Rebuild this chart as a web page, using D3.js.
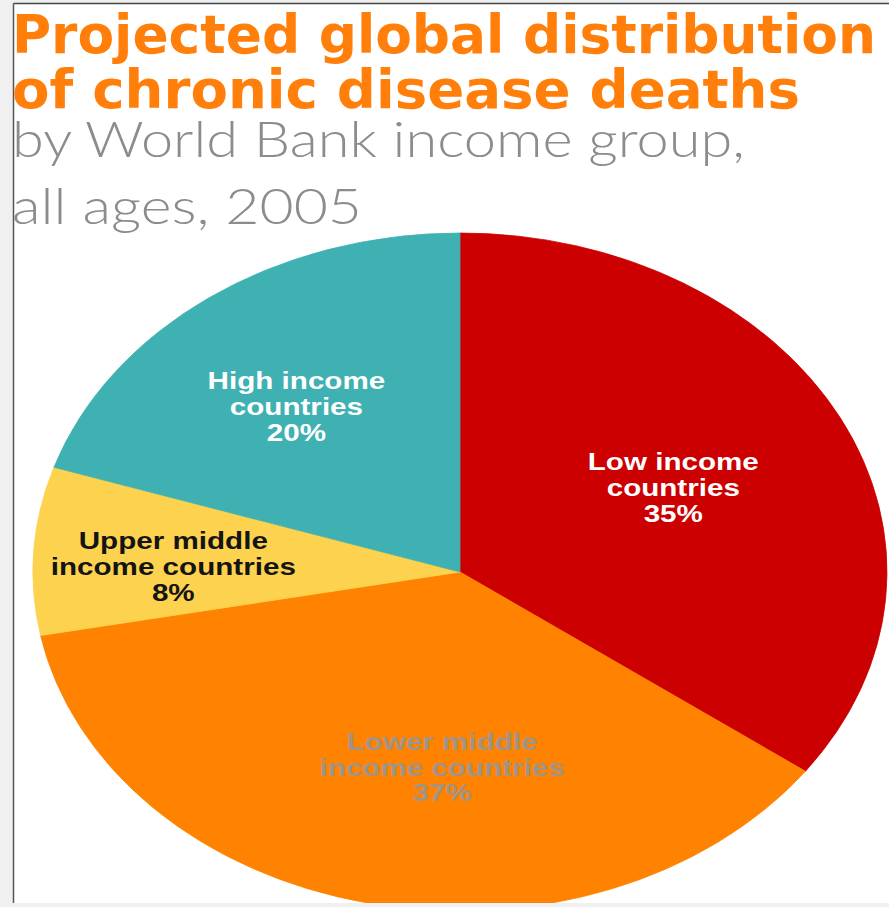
<!DOCTYPE html>
<html>
<head>
<meta charset="utf-8">
<script src="https://cdn.jsdelivr.net/npm/d3@7"></script>
<style>
  html, body { margin: 0; padding: 0; background: #f0f0f0; overflow: hidden; }
  svg { display: block; }
</style>
</head>
<body>
<svg id="chart" width="889" height="907"></svg>
<script>
// ---- data ----
const titleLines = ["Projected global distribution", "of chronic disease deaths"];
const subtitleLines = ["by World Bank income group,", "all ages, 2005"];
const categories = ["Low income countries", "Lower middle income countries", "Upper middle income countries", "High income countries"];
const labelLines = [["Low income", "countries"], ["Lower middle", "income countries"], ["Upper middle", "income countries"], ["High income", "countries"]];
const values = [35, 37, 8, 20];

// ---- styles / layout ----
const sliceColors = ["#cc0000", "#ff8300", "#fcd24e", "#3fb1b2"];
const labelColors = ["#ffffff", "#a09488", "#141414", "#ffffff"];
const labelNudge = [[-15, 8], [38, -3], [-31, 8], [-13, 0]];

const W = 889, H = 907;
const cx = 460, cy = 572, rx = 427, ry = 339, R = 100;
const stretch = 1.26;

const svg = d3.select("#chart");

// frame
svg.append("rect").attr("x", 14).attr("y", 4).attr("width", W - 14).attr("height", 899).attr("fill", "#ffffff");
svg.append("line").attr("x1", 13.5).attr("y1", 3.5).attr("x2", 13.5).attr("y2", 903).attr("stroke", "#555").attr("stroke-width", 1.5);
svg.append("line").attr("x1", 13.5).attr("y1", 3.5).attr("x2", W).attr("y2", 3.5).attr("stroke", "#444").attr("stroke-width", 1.5);

const defs = svg.append("defs");
defs.append("clipPath").attr("id", "plotclip").append("rect")
  .attr("x", 14).attr("y", 4).attr("width", W - 14).attr("height", 899);

// pie
const pie = d3.pie().sort(null).value(d => d);
const arcs = pie(values);
const arc = d3.arc().innerRadius(0).outerRadius(R);
const labelArc = d3.arc().innerRadius(R * 0.6).outerRadius(R * 0.6);

const pieG = svg.append("g").attr("clip-path", "url(#plotclip)")
  .append("g")
  .attr("transform", `translate(${cx},${cy}) scale(${rx / R},${ry / R})`);

pieG.selectAll("path.slice")
  .data(arcs)
  .join("path")
  .attr("class", "slice")
  .attr("d", arc)
  .attr("fill", (d, i) => sliceColors[i])
  .attr("stroke", (d, i) => sliceColors[i])
  .attr("stroke-width", 0.2);

// labels
const lineH = 26;
const labelG = svg.append("g");
arcs.forEach((d, i) => {
  const c = labelArc.centroid(d);
  const x = cx + c[0] * rx / R + labelNudge[i][0];
  const y = cy + c[1] * ry / R + labelNudge[i][1];
  const lines = labelLines[i].concat([values[i] + "%"]);
  const g = labelG.append("g")
    .attr("transform", `translate(${x},${y + 8}) scale(${stretch},1)`);
  lines.forEach((t, k) => {
    g.append("text")
      .attr("x", 0)
      .attr("y", (k - 1) * lineH)
      .attr("text-anchor", "middle")
      .attr("font-family", "'Liberation Sans', Arial, Helvetica, sans-serif")
      .attr("font-weight", "bold")
      .attr("font-size", 23.5)
      .attr("fill", labelColors[i])
      .text(t);
  });
});

// title
const titleBase = [53, 108];
const titleEnd = [876, 800];
titleLines.forEach((t, i) => {
  svg.append("text")
    .attr("x", 12)
    .attr("y", titleBase[i])
    .attr("font-family", "'DejaVu Sans Condensed', 'DejaVu Sans', sans-serif")
    .attr("font-stretch", "condensed")
    .attr("font-weight", "bold")
    .attr("font-size", 54)
    .attr("fill", "#ff7f0a")
    .attr("textLength", titleEnd[i] - 12)
    .attr("lengthAdjust", "spacingAndGlyphs")
    .text(t);
});

// subtitle
const subBase = [157, 224];
const subEnd = [745, 362];
subtitleLines.forEach((t, i) => {
  svg.append("text")
    .attr("x", 12)
    .attr("y", subBase[i])
    .attr("font-family", "Lato, Roboto, 'Open Sans', sans-serif")
    .attr("font-weight", 300)
    .attr("font-size", 49)
    .attr("fill", "#8c8c8c")
    .attr("textLength", subEnd[i] - 12)
    .attr("lengthAdjust", "spacingAndGlyphs")
    .text(t);
});
</script>
</body>
</html>
